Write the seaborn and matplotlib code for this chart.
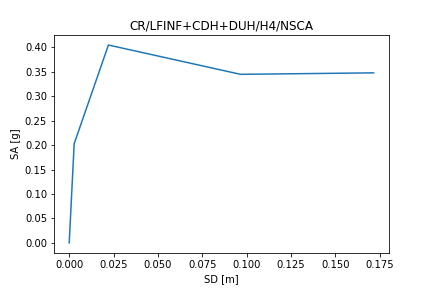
import matplotlib
matplotlib.use("Agg")
import matplotlib.pyplot as plt
import seaborn as sns
import pandas as pd

sd = [0.0, 0.0028, 0.0221, 0.0966, 0.1716]
sa = [0.0, 0.203, 0.405, 0.345, 0.348]

df = pd.DataFrame({"SD": sd, "SA": sa})

fig, ax = plt.subplots(figsize=(6, 4), dpi=72)
fig.subplots_adjust(left=0.125, right=0.9, top=0.878, bottom=0.1225)
sns.lineplot(data=df, x="SD", y="SA", ax=ax, sort=False, estimator=None, color="#1f77b4")
ax.set_title("CR/LFINF+CDH+DUH/H4/NSCA")
ax.set_xlabel("SD [m]")
ax.set_ylabel("SA [g]")
fig.savefig("out.png", dpi=72)
